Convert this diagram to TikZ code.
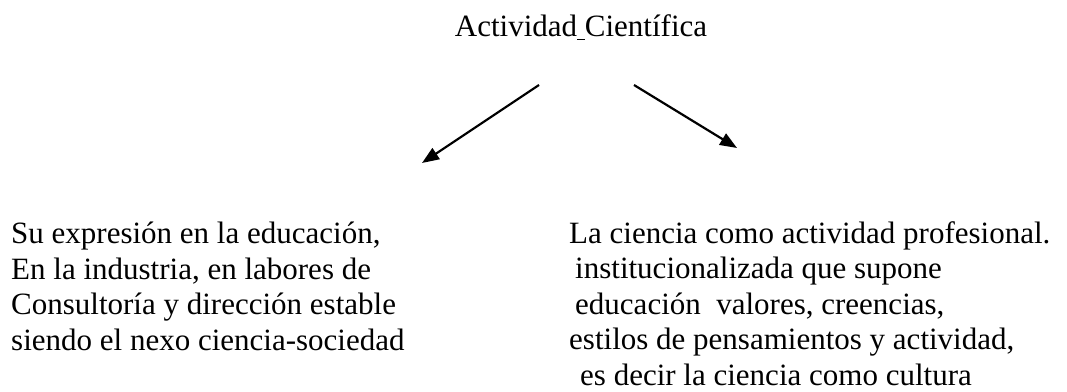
\documentclass[tikz,border=0pt]{standalone}
\usepackage{fontspec}
\setmainfont{Liberation Serif}
\usetikzlibrary{arrows.meta}

\begin{document}
\begin{tikzpicture}[x=1pt,y=-1pt,
    texto/.style={inner sep=0pt,anchor=base west,align=left,
        font=\fontsize{31}{35.5}\selectfont},
    flecha/.style={line width=2.2pt,-{Triangle[length=17pt,width=13pt]}}]

    % Frame of the page
    \useasboundingbox (0,0) rectangle (1067,391);

    % Title
    \node[texto,anchor=base] (titulo) at (581,36)
        {Actividad\rule[-4pt]{0.25em}{1.5pt}Científica};

    % Ends of the arrows
    \coordinate (izqIni) at (539,85);
    \coordinate (izqFin) at (422,163);
    \coordinate (derIni) at (634,85);
    \coordinate (derFin) at (737,148);

    % Arrows
    \draw[flecha] (izqIni) -- (izqFin);
    \draw[flecha] (derIni) -- (derFin);

    % Left text (anchored at the baseline of its last line)
    \node[texto] (izquierda) at (11,350)
        {Su expresión en la educación,\\
         En la industria, en labores de\\
         Consultoría y dirección estable\\
         siendo el nexo ciencia-sociedad};

    % Right text (anchored at the baseline of its last line)
    \node[texto] (derecha) at (569,385)
        {La ciencia como actividad profesional.\\
         \hspace*{6pt}institucionalizada que supone\\
         \hspace*{6pt}educación\ \ valores, creencias,\\
         estilos de pensamientos y actividad,\\
         \hspace*{11pt}es decir la ciencia como cultura};

\end{tikzpicture}
\end{document}
